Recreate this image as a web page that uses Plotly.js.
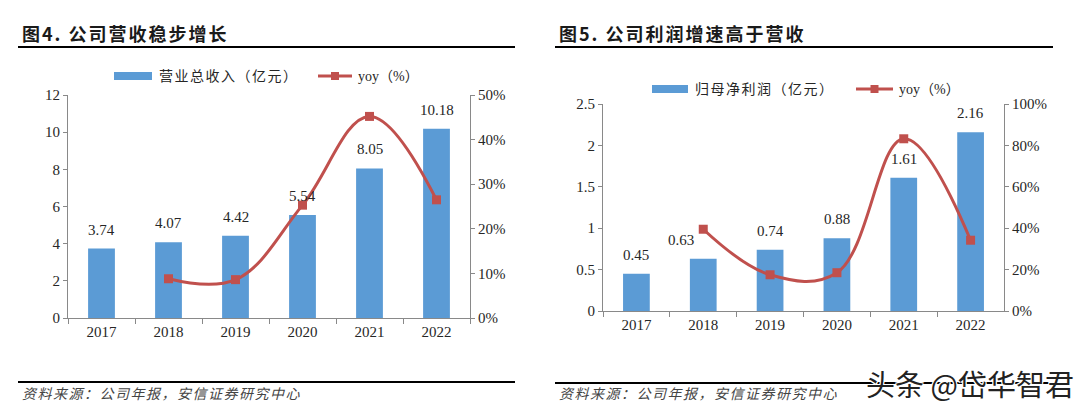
<!DOCTYPE html>
<html>
<head>
<meta charset="utf-8">
<script src="https://cdn.plot.ly/plotly-3.0.1.min.js"></script>
<style>html,body{margin:0;padding:0;background:#fff;}#chart{width:1080px;height:411px;}</style>
</head>
<body>
<div id="chart"></div>
<script>
// ---- data ----
const years = ['2017', '2018', '2019', '2020', '2021', '2022'];
const yoyYears = ['2018', '2019', '2020', '2021', '2022'];
const revenue = [3.74, 4.07, 4.42, 5.54, 8.05, 10.18];
const revenueYoy = [8.8, 8.6, 25.3, 45.2, 26.5];
const profit = [0.45, 0.63, 0.74, 0.88, 1.61, 2.16];
const profitYoy = [39.5, 17.5, 18.5, 83.2, 34.2];
const leftTitle = '图4. 公司营收稳步增长';
const rightTitle = '图5. 公司利润增速高于营收';
const leftBarName = '营业总收入（亿元）';
const rightBarName = '归母净利润（亿元）';
const yoyName = 'yoy（%）';
const sourceText = '资料来源：公司年报，安信证券研究中心';
const watermark = '头条 @岱华智君';

// ---- style ----
const W = 1080, H = 411;
const X = px => px / W;
const Y = py => 1 - py / H;
const BLUE = '#5B9BD5';
const RED = '#C0504D';
const AX = '#898989';
const SERIF = 'Liberation Serif, "Noto Sans CJK SC", serif';
const CJK = '"Noto Sans CJK SC", sans-serif';
const TXT = '#262626';
// horizontal nudges (px) of the profit value labels, as placed in the reference
const profitLabelNudge = [0, -22, 0, 0, 0, 0];

const traces = [
  {type: 'bar', x: years, y: revenue, xaxis: 'x', yaxis: 'y', marker: {color: BLUE}, width: 0.4},
  {type: 'scatter', mode: 'lines+markers', x: yoyYears, y: revenueYoy, xaxis: 'x', yaxis: 'y2',
   line: {color: RED, width: 3, shape: 'spline', smoothing: 1.1}, marker: {symbol: 'square', size: 9, color: RED}},
  {type: 'bar', x: years, y: profit, xaxis: 'x2', yaxis: 'y3', marker: {color: BLUE}, width: 0.4},
  {type: 'scatter', mode: 'lines+markers', x: yoyYears, y: profitYoy, xaxis: 'x2', yaxis: 'y4',
   line: {color: RED, width: 3, shape: 'spline', smoothing: 1.1}, marker: {symbol: 'square', size: 9, color: RED}}
];

function xAxis(domain, anchor) {
  return {domain: domain, anchor: anchor, type: 'category', categoryorder: 'array', categoryarray: years,
    range: [-0.5, years.length - 0.5], autorange: false,
    showline: true, linecolor: AX, linewidth: 1, ticks: 'outside', tickson: 'boundaries', ticklen: 5,
    tickcolor: AX, showgrid: false, zeroline: false, fixedrange: true, tickangle: 0,
    tickfont: {family: SERIF, size: 15, color: TXT}};
}
function yAxis(domain, anchor, range, dtick, side, overlaying, suffix) {
  const a = {domain: domain, anchor: anchor, range: range, autorange: false, dtick: dtick, tick0: 0, side: side,
    showline: true, linecolor: AX, linewidth: 1, ticks: 'outside', ticklen: 4, tickcolor: AX,
    showgrid: false, zeroline: false, fixedrange: true, ticksuffix: suffix || '',
    tickfont: {family: SERIF, size: 15, color: TXT}};
  if (overlaying) a.overlaying = overlaying;
  return a;
}

const leftX = [X(68), X(470)], leftY = [Y(318), Y(95)];
const rightX = [X(603), X(1004)], rightY = [Y(311), Y(104)];

const annotations = [];
const shapes = [];

// data labels (x given as category index)
years.forEach((yr, i) => {
  annotations.push({x: i, y: revenue[i], xref: 'x', yref: 'y', text: revenue[i].toFixed(2),
    showarrow: false, yanchor: 'bottom', yshift: 9, font: {family: SERIF, size: 15, color: TXT}});
  annotations.push({x: i, y: profit[i], xref: 'x2', yref: 'y3', text: profit[i].toFixed(2),
    showarrow: false, yanchor: 'bottom', yshift: 9, xshift: profitLabelNudge[i],
    font: {family: SERIF, size: 15, color: TXT}});
});

function paperText(x, y, text, font, anchor) {
  annotations.push({xref: 'paper', yref: 'paper', x: X(x), y: Y(y), text: text, showarrow: false,
    xanchor: anchor || 'left', yanchor: 'middle', font: font});
}
function hline(x0, x1, y, w, c) {
  shapes.push({type: 'line', xref: 'paper', yref: 'paper', x0: X(x0), x1: X(x1), y0: Y(y), y1: Y(y),
    line: {color: c || '#000', width: w}});
}
function rect(x0, x1, y0, y1, c) {
  shapes.push({type: 'rect', xref: 'paper', yref: 'paper', x0: X(x0), x1: X(x1), y0: Y(y0), y1: Y(y1),
    fillcolor: c, line: {width: 0}});
}

// titles + rules
paperText(20, 33, '<b>' + leftTitle + '</b>', {family: CJK, size: 18, color: '#1a1a1a'});
paperText(557, 33, '<b>' + rightTitle + '</b>', {family: CJK, size: 18, color: '#1a1a1a'});
hline(18, 515, 47, 2);
hline(555, 1053, 47, 2);
hline(18, 515, 382, 2);
hline(555, 1053, 383, 2);
paperText(20, 393, '<i>' + sourceText + '</i>', {family: CJK, size: 14, color: '#444'});
paperText(557, 393, '<i>' + sourceText + '</i>', {family: CJK, size: 14, color: '#444'});

// legends
function legend(bx0, bx1, by, barName, lx0, lx1) {
  rect(bx0, bx1, by - 4, by + 4, BLUE);
  paperText(bx1 + 5, by, barName, {family: SERIF, size: 14, color: TXT});
  hline(lx0, lx1, by, 3, RED);
  const cx = (lx0 + lx1) / 2;
  rect(cx - 4, cx + 4, by - 4, by + 4, RED);
  paperText(lx1 + 4, by, yoyName, {family: SERIF, size: 14, color: TXT});
}
legend(114, 152, 76, leftBarName, 318, 352);
legend(652, 688, 89, rightBarName, 856, 893);

// watermark
annotations.push({xref: 'paper', yref: 'paper', x: X(1076), y: Y(383), text: watermark, showarrow: false,
  xanchor: 'right', yanchor: 'middle',
  font: {family: CJK, size: 29, color: '#222',
    shadow: '1px 1px 0 #fff, -1px -1px 0 #fff, 1px -1px 0 #fff, -1px 1px 0 #fff'}});

const layout = {
  width: W, height: H, autosize: false, margin: {l: 0, r: 0, t: 0, b: 0},
  paper_bgcolor: '#fff', plot_bgcolor: 'rgba(0,0,0,0)', showlegend: false,
  xaxis: xAxis(leftX, 'y'),
  yaxis: yAxis(leftY, 'x', [0, 12], 2, 'left'),
  yaxis2: yAxis(leftY, 'x', [0, 50], 10, 'right', 'y', '%'),
  xaxis2: xAxis(rightX, 'y3'),
  yaxis3: yAxis(rightY, 'x2', [0, 2.5], 0.5, 'left'),
  yaxis4: yAxis(rightY, 'x2', [0, 100], 20, 'right', 'y3', '%'),
  annotations: annotations, shapes: shapes
};

// widen letter spacing while keeping the text's left edge fixed
function spaceText(t, px) {
  const before = t.getBBox().x;
  t.style.letterSpacing = px + 'px';
  const after = t.getBBox().x;
  t.setAttribute('x', parseFloat(t.getAttribute('x') || 0) + (before - after));
}

Plotly.newPlot('chart', traces, layout, {displayModeBar: false, staticPlot: true}).then(gd => {
  gd.querySelectorAll('.annotation-text').forEach(t => {
    const s = t.textContent;
    if (s === leftTitle || s === rightTitle) spaceText(t, 2);
    else if (s === sourceText) spaceText(t, 1.5);
    else if (s === leftBarName || s === rightBarName) spaceText(t, 1.5);
  });
});
</script>
</body>
</html>
